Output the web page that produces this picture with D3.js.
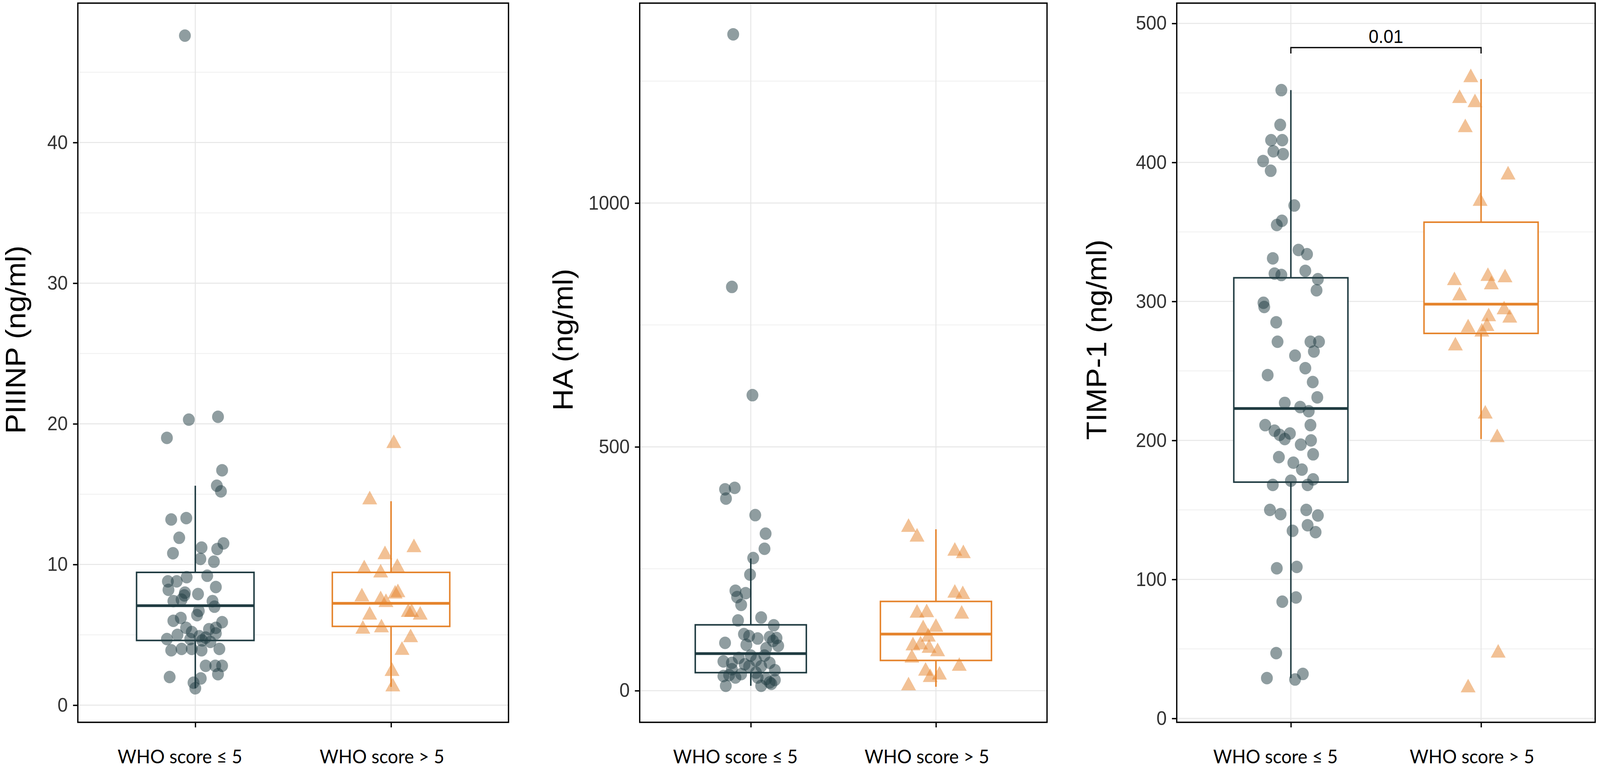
<!DOCTYPE html>
<html>
<head>
<meta charset="utf-8">
<script src="https://cdn.jsdelivr.net/npm/d3@7"></script>
<style>
  html, body { margin: 0; padding: 0; background: #fff; overflow: hidden; }
  svg { display: block; width: 100vw; height: 100vh; }
</style>
</head>
<body>
<svg id="chart"></svg>
<script>
// ---- data ----
var categories = ["WHO score \u2264 5", "WHO score > 5"];

// [jitter (in category steps), value]
var piiinpLow = [[-0.053,47.6],[-0.033,20.3],[0.116,20.5],[-0.145,19.0],[0.137,16.7],[0.110,15.6],[0.131,15.2],[-0.123,13.2],[-0.046,13.3],[-0.082,11.9],[0.032,11.2],[0.144,11.5],[0.112,11.1],[-0.114,10.8],[0.026,10.4],[0.095,10.2],[0.061,9.2],[-0.044,9.1],[-0.140,8.8],[-0.095,8.8],[0.105,8.4],[-0.137,8.2],[-0.053,8.0],[-0.056,7.8],[0.014,7.9],[-0.112,7.4],[-0.070,7.5],[0.088,7.4],[0.098,7.0],[0.018,6.7],[-0.074,6.2],[-0.112,6.0],[0.137,5.9],[0.009,6.4],[0.105,5.5],[-0.047,5.5],[0.070,5.4],[-0.018,5.2],[-0.091,5.0],[-0.145,4.7],[0.105,5.1],[0.021,4.9],[0.053,4.8],[-0.026,4.7],[0.035,4.6],[0.077,4.5],[-0.123,3.9],[-0.070,4.0],[-0.018,4.0],[0.032,3.9],[0.123,4.0],[0.053,2.8],[0.102,2.8],[0.137,2.8],[-0.131,2.0],[0.028,1.9],[-0.009,1.6],[0.116,2.2],[0.000,1.2]];
var piiinpHigh = [[0.014,18.6],[-0.109,14.6],[0.117,11.2],[-0.031,10.7],[-0.137,9.7],[-0.053,9.4],[0.032,9.8],[0.035,8.0],[0.021,7.9],[-0.149,7.7],[-0.053,7.5],[-0.026,7.3],[-0.109,6.4],[0.088,6.6],[0.105,6.6],[0.149,6.4],[-0.144,5.4],[-0.049,5.5],[0.100,4.8],[0.056,3.9],[0.005,2.4],[0.009,1.3]];

var haLow = [[-0.095,1346],[-0.102,828],[0.009,606],[-0.139,413],[-0.087,416],[-0.134,394],[0.024,360],[0.080,322],[0.074,291],[0.013,272],[-0.004,238],[-0.083,205],[-0.028,200],[-0.074,192],[-0.052,176],[-0.069,144],[0.056,150],[0.124,134],[-0.139,98],[-0.037,116],[-0.009,112],[0.037,107],[0.102,110],[0.139,108],[-0.024,94],[0.083,87],[0.148,92],[0.120,102],[-0.148,60],[-0.102,57],[-0.033,54],[0.028,62],[0.102,57],[-0.009,50],[0.056,50],[-0.148,30],[-0.117,32],[-0.083,27],[-0.052,34],[0.037,27],[0.083,24],[0.102,17],[0.130,22],[-0.135,10],[0.056,10],[0.111,14],[0.028,37],[0.000,72],[-0.065,67],[0.074,72],[0.130,42],[-0.102,44]];
var haHigh = [[-0.148,335],[-0.102,315],[0.102,286],[0.148,281],[0.102,200],[0.145,197],[-0.102,159],[-0.050,160],[0.139,157],[0.000,130],[-0.069,127],[-0.041,110],[-0.124,92],[-0.083,94],[-0.037,87],[0.009,80],[-0.130,67],[0.126,50],[-0.056,40],[0.019,32],[-0.031,27],[-0.148,10]];

var timpLow = [[-0.050,452],[-0.056,427],[-0.104,416],[-0.045,416],[-0.092,408],[-0.041,406],[-0.146,401],[-0.106,394],[0.018,369],[-0.047,358],[-0.074,355],[0.040,337],[0.085,334],[-0.095,331],[0.076,322],[-0.086,320],[-0.050,319],[0.142,316],[0.135,308],[-0.144,299],[-0.140,296],[-0.077,285],[-0.070,271],[0.103,271],[0.148,271],[0.121,264],[0.022,261],[0.076,252],[-0.122,247],[0.115,242],[0.139,231],[-0.032,227],[0.049,224],[0.094,221],[-0.135,211],[-0.086,207],[0.103,211],[-0.059,204],[-0.005,205],[-0.032,201],[0.106,200],[0.052,197],[0.117,190],[-0.063,188],[0.013,184],[0.058,179],[0.117,172],[0.000,171],[0.088,168],[-0.095,168],[-0.110,150],[0.081,150],[-0.054,147],[0.142,146],[0.088,139],[0.009,135],[0.130,134],[-0.074,108],[0.031,109],[-0.045,84],[0.027,87],[-0.077,47],[-0.126,29],[0.022,28],[0.063,32]];
var timpHigh = [[-0.054,461],[-0.113,446],[-0.032,443],[-0.083,425],[0.142,391],[-0.005,372],[-0.140,315],[0.036,318],[0.126,317],[0.054,312],[-0.113,304],[0.121,294],[0.040,289],[0.151,288],[-0.068,281],[0.031,282],[0.004,278],[-0.135,268],[0.022,219],[0.085,202],[0.090,47],[-0.068,22]];

// box stats: [whisker low, q1, median, q3, whisker high]
var piiinpBox = [[1.2, 4.6, 7.07, 9.44, 15.6], [1.3, 5.6, 7.24, 9.44, 14.5]];
var haBox = [[10, 37, 76, 135, 271], [8, 62, 116, 183, 331]];
var timpBox = [[29, 170, 223, 317, 452], [201, 277, 298, 357, 460]];

var piiinpTicks = [0, 10, 20, 30, 40];
var haTicks = [0, 500, 1000];
var timpTicks = [0, 100, 200, 300, 400, 500];

var pLabel = "0.01";

// ---- layout ----
var width = 4317, height = 1967;
var plotTop = 8, plotBottom = 1850;
var colors = ["#1f3b41", "#e5832b"];
var labelShift = [-42, -25];   // x labels sit a bit left of their ticks in the original

var panels = [
  { title: "PIIINP (ng/ml)", left: 210, right: 1372, domain: [-1.22, 49.91], ticks: piiinpTicks, minorStep: 5,
    low: piiinpLow, high: piiinpHigh, box: piiinpBox, titleX: 42 },
  { title: "HA (ng/ml)", left: 1726, right: 2825, domain: [-64.9, 1410], ticks: haTicks, minorStep: 250,
    low: haLow, high: haHigh, box: haBox, titleX: 1518 },
  { title: "TIMP-1 (ng/ml)", left: 3175, right: 4304, domain: [-2.8, 514.6], ticks: timpTicks, minorStep: 50,
    low: timpLow, high: timpHigh, box: timpBox, titleX: 2958, bracket: { y: 482.6, tip: 478.4, label: pLabel } }
];

var svg = d3.select("#chart")
  .attr("viewBox", "0 0 " + width + " " + height)
  .attr("preserveAspectRatio", "none");

panels.forEach(function (p) {
  var x = d3.scalePoint().domain(categories).range([p.left, p.right]).padding(0.6);
  var y = d3.scaleLinear().domain(p.domain).range([plotBottom, plotTop]);
  var step = x.step();
  var g = svg.append("g");

  // grid: minor then major
  var minor = d3.range(Math.ceil(p.domain[0] / p.minorStep) * p.minorStep, p.domain[1], p.minorStep)
    .filter(function (v) { return p.ticks.indexOf(v) < 0; });
  g.selectAll(".minor").data(minor).enter().append("line")
    .attr("x1", p.left).attr("x2", p.right)
    .attr("y1", function (d) { return y(d); }).attr("y2", function (d) { return y(d); })
    .attr("stroke", "#efefef").attr("stroke-width", 2);
  g.selectAll(".major").data(p.ticks).enter().append("line")
    .attr("x1", p.left).attr("x2", p.right)
    .attr("y1", function (d) { return y(d); }).attr("y2", function (d) { return y(d); })
    .attr("stroke", "#e6e6e6").attr("stroke-width", 2.6);
  g.selectAll(".vgrid").data(categories).enter().append("line")
    .attr("x1", function (d) { return x(d); }).attr("x2", function (d) { return x(d); })
    .attr("y1", plotTop).attr("y2", plotBottom)
    .attr("stroke", "#e6e6e6").attr("stroke-width", 2.6);

  // boxes
  p.box.forEach(function (b, i) {
    var cx = x(categories[i]), bw = step * 0.6;
    var bg = g.append("g").attr("stroke", colors[i]).attr("fill", "none");
    bg.append("line").attr("x1", cx).attr("x2", cx).attr("y1", y(b[3])).attr("y2", y(b[4])).attr("stroke-width", 4);
    bg.append("line").attr("x1", cx).attr("x2", cx).attr("y1", y(b[1])).attr("y2", y(b[0])).attr("stroke-width", 4);
    bg.append("rect").attr("x", cx - bw / 2).attr("width", bw)
      .attr("y", y(b[3])).attr("height", y(b[1]) - y(b[3]))
      .attr("fill", "#fff").attr("stroke-width", 4);
    bg.append("line").attr("x1", cx - bw / 2).attr("x2", cx + bw / 2)
      .attr("y1", y(b[2])).attr("y2", y(b[2])).attr("stroke-width", 7);
  });

  // jittered points
  g.selectAll(".pt-low").data(p.low).enter().append("circle")
    .attr("cx", function (d) { return x(categories[0]) + d[0] * step; })
    .attr("cy", function (d) { return y(d[1]); })
    .attr("r", 16)
    .attr("fill", colors[0]).attr("fill-opacity", 0.5);
  var tri = d3.symbol().type(d3.symbolTriangle).size(700);
  g.selectAll(".pt-high").data(p.high).enter().append("path")
    .attr("d", tri)
    .attr("transform", function (d) { return "translate(" + (x(categories[1]) + d[0] * step) + "," + y(d[1]) + ")"; })
    .attr("fill", colors[1]).attr("fill-opacity", 0.5);

  // significance bracket
  if (p.bracket) {
    var x1 = x(categories[0]), x2 = x(categories[1]);
    g.append("path")
      .attr("d", "M" + x1 + "," + y(p.bracket.tip) + "V" + y(p.bracket.y) + "H" + x2 + "V" + y(p.bracket.tip))
      .attr("fill", "none").attr("stroke", "#000").attr("stroke-width", 3.2);
    g.append("text")
      .attr("x", (x1 + x2) / 2).attr("y", y(p.bracket.y) - 12)
      .attr("text-anchor", "middle")
      .style("font-family", "'Liberation Sans', Arial, sans-serif")
      .style("font-size", "48px").attr("fill", "#000")
      .text(p.bracket.label);
  }

  // frame
  g.append("rect").attr("x", p.left).attr("y", plotTop)
    .attr("width", p.right - p.left).attr("height", plotBottom - plotTop)
    .attr("fill", "none").attr("stroke", "#000").attr("stroke-width", 3.5);

  // y axis
  var yAxis = d3.axisLeft(y).tickValues(p.ticks).tickFormat(d3.format("d")).tickSize(13).tickPadding(14);
  var ya = g.append("g").attr("transform", "translate(" + p.left + ",0)").call(yAxis);
  ya.select(".domain").remove();
  ya.selectAll(".tick line").attr("stroke", "#000").attr("stroke-width", 3.5);
  ya.selectAll(".tick text")
    .style("font-family", "'Liberation Sans', Arial, sans-serif")
    .style("font-size", "50px").attr("fill", "#333");

  // x axis
  var xAxis = d3.axisBottom(x).tickSize(13).tickPadding(0);
  var xa = g.append("g").attr("transform", "translate(0," + plotBottom + ")").call(xAxis);
  xa.select(".domain").remove();
  xa.selectAll(".tick line").attr("stroke", "#000").attr("stroke-width", 3.5);
  xa.selectAll(".tick text")
    .attr("y", 105).attr("dy", 0).attr("dx", function (d, i) { return labelShift[i]; })
    .style("font-family", "Lato, 'Open Sans', sans-serif")
    .style("font-size", "49px").attr("fill", "#000");

  // y title
  g.append("text")
    .attr("transform", "translate(" + p.titleX + ",870) rotate(-90)")
    .attr("text-anchor", "middle").attr("dominant-baseline", "central")
    .style("font-family", "'Liberation Sans', Arial, sans-serif")
    .style("font-size", "77px").attr("fill", "#000")
    .text(p.title);
});
</script>
</body>
</html>
